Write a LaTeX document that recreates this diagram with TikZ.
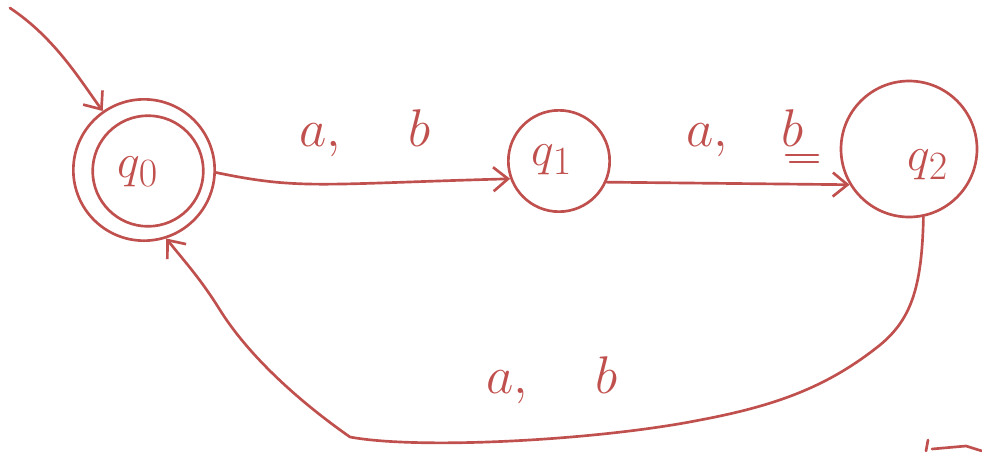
\documentclass[tikz,border=0pt]{standalone}
\usepackage{graphicx}
\usetikzlibrary{arrows.meta}
\definecolor{handred}{RGB}{192,80,77}
\newcommand{\bigstate}[1]{\scalebox{1.45}{\Huge$#1$}}
\newcommand{\bigedge}[1]{\scalebox{1.6}{\Huge$#1$}}
\begin{document}
\begin{tikzpicture}[x=0.75pt,y=-0.75pt,
  every path/.style={line width=2pt, handred, line cap=round, line join=round},
  statebox/.style={circle, draw=handred, line width=2pt, inner sep=0pt},
  lbl/.style={text=handred},
  edgelbl/.style={text=handred},
  tip/.style={-{Straight Barb[length=11pt,width=18pt,line width=2pt]}}]
\useasboundingbox (0,0) rectangle (982,451);
% states
\node[statebox, minimum size=83pt] (q0) at (148,171) {};
\node[statebox, minimum size=106pt] (q0o) at (144,170) {};
\node[lbl] (q0t) at (138,172) {\bigstate{q_0}};
\node[statebox, minimum size=76pt] (q1) at (559,161) {};
\node[lbl] (q1t) at (552,160) {\bigstate{q_1}};
\node[statebox, minimum size=102pt] (q2) at (909,149) {};
\node[lbl] (q2t) at (928,165) {\bigstate{q_2}};
% initial arrow
\coordinate (init) at (10,8);
\draw[tip] (init) .. controls (55,38) and (80,80) .. (q0o.125);
% q0 -> q1
\draw[tip] (q0o.-2) .. controls (300,190) and (320,184) .. (q1.200);
\node[edgelbl] (l1) at (365,133) {\bigedge{a,\;\;\;\;b}};
% q1 -> q2
\draw[tip] (q1.-24) -- (q2.211);
\node[edgelbl] (l2) at (745,133) {\bigedge{a,\;\;\;b}};
\coordinate (u1a) at (786,155); \coordinate (u1b) at (818,155);
\coordinate (u2a) at (790,162); \coordinate (u2b) at (818,162);
\draw (u1a) -- (u1b);
\draw (u2a) -- (u2b);
% q2 -> q0
\coordinate (c1) at (880,345);
\coordinate (c2) at (350,437);
\coordinate (c3) at (220,310);
\draw[tip] (q2.-78) .. controls (922,290) and (910,320) .. (c1)
  .. controls (830,385) and (780,405) .. (700,420)
  .. controls (600,440) and (420,450) .. (c2)
  .. controls (290,395) and (245,350) .. (c3)
  .. controls (200,278) and (185,262) .. (q0o.-72);
\node[edgelbl] (l3) at (552,380) {\bigedge{a,\;\;\;\;b}};
% stray mark bottom right
\coordinate (m1) at (928,440); \coordinate (m2) at (926,451);
\coordinate (m3) at (932,449); \coordinate (m4) at (966,446); \coordinate (m5) at (982,451);
\draw (m1) -- (m2);
\draw (m3) -- (m4) -- (m5);
\end{tikzpicture}
\end{document}
